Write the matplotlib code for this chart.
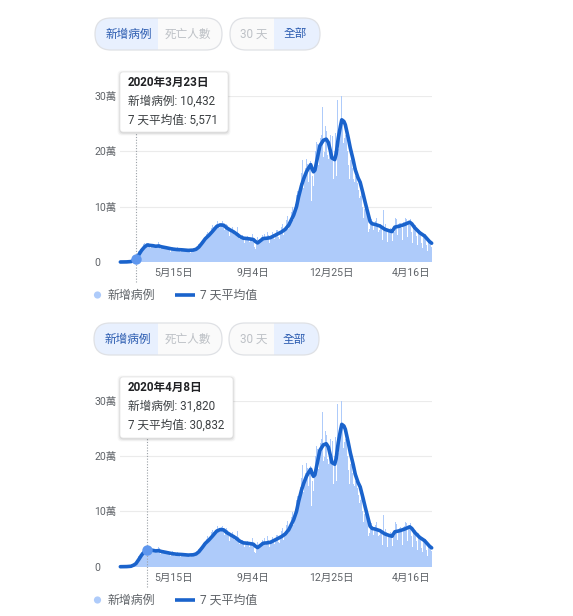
import numpy as np
import matplotlib
matplotlib.use("Agg")
import matplotlib.pyplot as plt
import matplotlib.dates as mdates
from matplotlib.patches import FancyBboxPatch, Rectangle, Circle

plt.rcParams['font.family'] = ['Roboto', 'Noto Sans CJK TC', 'DejaVu Sans']

# ---------------- data ----------------
start_date = "2020-03-01"
# daily new cases (thousands), one row per week starting Sunday 2020-03-01
daily_cases = [
    0.0, 0.0, 0.0, 0.0, 0.1, 0.1, 0.1,
    0.1, 0.2, 0.3, 0.3, 0.5, 0.6, 0.8,
    0.9, 1.2, 1.8, 2.8, 4.5, 5.7, 6.9,
    8.5, 10.432, 10.6, 12.0, 17.5, 19.0, 19.8,
    20.2, 22.0, 26.0, 26.5, 30.5, 32.5, 34.0,
    26.0, 29.0, 32.0, 31.82, 33.5, 34.0, 30.0,
    27.5, 26.0, 26.5, 29.5, 31.0, 32.5, 28.5,
    26.5, 26.0, 27.5, 28.5, 31.5, 36.0, 33.0,
    27.0, 23.5, 24.5, 27.5, 29.5, 29.5, 28.5,
    25.0, 23.0, 24.0, 25.5, 28.0, 27.5, 25.0,
    20.0, 18.5, 21.5, 21.0, 27.5, 25.0, 23.0,
    19.5, 21.5, 20.5, 22.5, 26.5, 24.0, 22.0,
    19.5, 17.5, 19.0, 20.0, 22.0, 24.0, 24.0,
    20.0, 21.0, 20.0, 20.5, 22.0, 23.0, 22.5,
    17.5, 17.0, 19.5, 21.0, 23.5, 25.0, 25.0,
    19.5, 19.0, 23.0, 26.0, 27.5, 32.0, 32.0,
    28.0, 31.0, 34.0, 37.5, 40.0, 45.0, 42.0,
    40.0, 42.0, 45.0, 50.0, 55.0, 54.0, 45.0,
    47.0, 54.0, 60.0, 62.0, 66.0, 71.0, 63.0,
    58.0, 63.0, 66.0, 68.0, 74.0, 74.0, 64.0,
    62.0, 60.0, 64.0, 71.0, 74.0, 73.0, 66.0,
    57.0, 56.0, 63.0, 69.0, 66.0, 69.0, 56.0,
    47.0, 46.0, 55.0, 53.0, 59.0, 63.0, 55.0,
    48.0, 48.0, 52.0, 55.0, 53.0, 64.0, 53.0,
    41.0, 37.0, 44.0, 46.0, 45.0, 48.0, 44.0,
    35.0, 36.0, 40.0, 45.0, 46.0, 47.0, 43.0,
    35.0, 36.0, 40.0, 41.0, 46.0, 51.0, 41.0,
    31.0, 27.0, 24.0, 34.0, 36.0, 45.0, 40.0,
    33.0, 37.0, 38.0, 39.0, 45.0, 48.0, 42.0,
    37.0, 51.0, 39.0, 39.0, 44.0, 55.0, 48.0,
    33.0, 35.0, 43.0, 40.0, 45.0, 54.0, 50.0,
    37.0, 41.0, 50.0, 51.0, 58.0, 58.0, 54.0,
    45.0, 42.0, 52.0, 60.0, 64.0, 69.0, 57.0,
    48.0, 58.0, 60.0, 62.0, 76.0, 83.0, 79.0,
    60.0, 67.0, 74.0, 78.0, 90.0, 99.0, 89.0,
    76.0, 85.0, 92.0, 104.0, 121.0, 128.0, 126.0,
    109.0, 119.0, 137.0, 143.0, 161.0, 184.0, 164.0,
    134.0, 158.0, 163.0, 170.0, 187.0, 196.0, 178.0,
    145.0, 174.0, 178.0, 182.0, 110.0, 205.0, 155.0,
    137.0, 160.0, 184.0, 200.0, 217.0, 229.0, 213.0,
    176.0, 194.0, 219.0, 224.0, 230.0, 247.0, 280.0,
    190.0, 199.0, 198.0, 245.0, 237.0, 236.0, 194.0,
    186.0, 196.0, 199.0, 230.0, 200.0, 98.0, 227.0,
    150.0, 175.0, 200.0, 234.0, 172.0, 155.0, 293.0,
    205.0, 185.0, 230.0, 255.0, 270.0, 300.0, 255.0,
    215.0, 210.0, 225.0, 230.0, 240.0, 245.0, 200.0,
    175.0, 140.0, 150.0, 185.0, 195.0, 190.0, 170.0,
    140.0, 150.0, 145.0, 155.0, 165.0, 170.0, 142.0,
    110.0, 130.0, 115.0, 120.0, 125.0, 128.0, 100.0,
    85.0, 80.0, 95.0, 97.0, 100.0, 103.0, 87.0,
    60.0, 55.0, 60.0, 64.0, 72.0, 78.0, 70.0,
    55.0, 58.0, 70.0, 75.0, 75.0, 80.0, 65.0,
    52.0, 55.0, 58.0, 64.0, 68.0, 66.0, 60.0,
    40.0, 94.0, 56.0, 58.0, 68.0, 62.0, 54.0,
    36.0, 55.0, 56.0, 60.0, 62.0, 60.0, 52.0,
    38.0, 55.0, 55.0, 66.0, 80.0, 77.0, 65.0,
    48.0, 68.0, 63.0, 70.0, 71.0, 62.0, 38.0,
    40.0, 72.0, 62.0, 73.0, 80.0, 78.0, 64.0,
    46.0, 72.0, 74.0, 72.0, 78.0, 73.0, 55.0,
    35.0, 68.0, 62.0, 63.0, 67.0, 63.0, 47.0,
    30.0, 60.0, 52.0, 58.0, 56.0, 54.0, 34.0,
    26.0, 46.0, 43.0, 44.0, 50.0, 48.0, 30.0,
    20.0, 33.0, 37.0, 38.0, 36.0, 39.0, 28.0,
]

# 7-day average (thousands)
avg_dates = [
    "2020-03-01", "2020-03-10", "2020-03-16", "2020-03-20", "2020-03-23", "2020-03-27",
    "2020-03-31", "2020-04-04", "2020-04-08", "2020-04-12", "2020-04-16", "2020-04-20",
    "2020-04-24", "2020-04-28", "2020-05-04", "2020-05-13", "2020-05-20", "2020-05-27",
    "2020-06-05", "2020-06-12", "2020-06-16", "2020-06-20", "2020-06-25", "2020-06-29",
    "2020-07-04", "2020-07-09", "2020-07-15", "2020-07-20", "2020-07-25", "2020-07-29",
    "2020-08-03", "2020-08-08", "2020-08-13", "2020-08-17", "2020-08-22", "2020-08-27",
    "2020-09-01", "2020-09-05", "2020-09-08", "2020-09-11", "2020-09-15", "2020-09-19",
    "2020-09-24", "2020-09-29", "2020-10-06", "2020-10-15", "2020-10-20", "2020-10-25",
    "2020-11-01", "2020-11-05", "2020-11-08", "2020-11-12", "2020-11-15", "2020-11-19",
    "2020-11-22", "2020-11-25", "2020-11-27", "2020-11-29", "2020-12-01", "2020-12-04",
    "2020-12-08", "2020-12-13", "2020-12-17", "2020-12-20", "2020-12-23", "2020-12-25",
    "2020-12-29", "2020-12-31", "2021-01-03", "2021-01-06", "2021-01-08", "2021-01-11",
    "2021-01-13", "2021-01-17", "2021-01-20", "2021-01-24", "2021-01-27", "2021-01-31",
    "2021-02-03", "2021-02-07", "2021-02-10", "2021-02-14", "2021-02-17", "2021-02-20",
    "2021-02-24", "2021-03-03", "2021-03-10", "2021-03-17", "2021-03-20", "2021-03-24",
    "2021-03-31", "2021-04-07", "2021-04-14", "2021-04-17", "2021-04-21", "2021-04-28",
    "2021-05-05", "2021-05-12", "2021-05-15",
]
avg_values = [
    0.0, 0.2, 0.8, 3.0, 5.571, 13.0,
    21.0, 27.0, 30.832, 30.0, 29.5, 28.5,
    29.0, 27.5, 26.0, 23.6, 22.5, 22.0,
    21.0, 21.5, 23.0, 27.0, 35.0, 42.0,
    48.0, 55.0, 64.0, 67.0, 66.5, 62.0,
    58.0, 54.5, 50.0, 46.0, 43.0, 42.4,
    41.5, 40.6, 37.0, 34.5, 38.5, 42.4,
    43.0, 44.0, 48.5, 54.5, 59.0, 66.7,
    85.0, 100.0, 118.0, 138.0, 150.0, 163.0,
    170.0, 176.0, 168.0, 163.0, 166.0, 185.0,
    210.0, 220.0, 222.0, 216.0, 200.0, 188.0,
    185.0, 195.0, 224.0, 245.0, 257.0, 254.0,
    248.0, 225.0, 206.0, 185.0, 167.0, 152.0,
    144.0, 124.0, 108.0, 88.0, 73.0, 69.0,
    68.0, 65.0, 59.0, 56.0, 55.0, 63.0,
    65.0, 68.0, 72.0, 69.0, 62.0, 53.0,
    47.0, 37.0, 34.0,
]

y_ticks = [0, 100, 200, 300]
y_tick_labels = ["0", "10萬", "20萬", "30萬"]
x_tick_dates = ["2020-05-15", "2020-09-04", "2020-12-25", "2021-04-16"]
x_tick_labels = ["5月15日", "9月4日", "12月25日", "4月16日"]

hover_dates = ["2020-03-23", "2020-04-08"]
hover_titles = ["2020年3月23日", "2020年4月8日"]
hover_new = ["10,432", "31,820"]
hover_avg_text = ["5,571", "30,832"]
hover_avg = [5.571, 30.832]

# ---------------- styling ----------------
W, H = 573, 616
BAR_C = "#aecbfa"
LINE_C = "#1a63cc"
GRID_C = "#ebebeb"
TICK_C = "#5f6368"

fig = plt.figure(figsize=(W / 100, H / 100), dpi=100)

d0 = np.datetime64(start_date)
days = d0 + np.arange(len(daily_cases))
xnum = mdates.date2num(days.astype("datetime64[D]").astype(object))
avg_x = mdates.date2num([np.datetime64(d).astype(object) for d in avg_dates])
xt = mdates.date2num([np.datetime64(d).astype(object) for d in x_tick_dates])

def px_axes(x0, x1, y_top, y_bot):
    return fig.add_axes([x0 / W, 1 - y_bot / H, (x1 - x0) / W, (y_bot - y_top) / H])

panels = [(96, 262), (400.5, 566.7)]
axes = []
for i, (ytop, ybot) in enumerate(panels):
    ax = px_axes(120, 432, ytop, ybot)
    ax.bar(xnum, daily_cases, width=1.0, color=BAR_C, linewidth=0, zorder=2)
    ax.plot(avg_x, avg_values, color=LINE_C, lw=2.6, solid_joinstyle="round",
            solid_capstyle="round", zorder=4, clip_on=False)
    ax.set_xlim(xnum[0] - 0.5, xnum[-1] + 0.5)
    ax.set_ylim(0, 300)
    ax.set_yticks(y_ticks)
    ax.set_yticklabels(y_tick_labels)
    for lab in ax.get_yticklabels():
        lab.set_ha("left")
    ax.tick_params(axis="y", length=0, pad=18.5, labelsize=7.6, labelcolor=TICK_C)
    ax.set_xticks(xt)
    ax.set_xticklabels(x_tick_labels)
    ax.tick_params(axis="x", length=0, pad=4.5, labelsize=7.6, labelcolor=TICK_C)
    ax.grid(axis="y", color=GRID_C, lw=0.8, zorder=0)
    ax.set_axisbelow(True)
    for s in ax.spines.values():
        s.set_visible(False)
    # hover marker and guide
    hx = mdates.date2num(np.datetime64(hover_dates[i]).astype(object))
    tip_bottom = 132 if i == 0 else 438
    ymax = (ybot - tip_bottom) / (ybot - ytop)
    ymin = -20 / (ybot - ytop)
    ax.axvline(hx, ymin=ymin, ymax=ymax, color="#9aa0a6", lw=0.8,
               linestyle=(0, (1, 1.5)), clip_on=False, zorder=3)
    ax.plot([hx], [hover_avg[i]], marker="o", ms=7.5, color="#5f97ee",
            markeredgewidth=0, zorder=6, clip_on=False)
    axes.append(ax)

# ---------------- overlay (pixel coordinates) ----------------
ov = fig.add_axes([0, 0, 1, 1], zorder=10)
ov.set_xlim(0, W)
ov.set_ylim(H, 0)
ov.axis("off")
ov.patch.set_visible(False)

SEL_BG = "#e8f0fe"
SEL_TXT = "#2a5bb0"
UNSEL_TXT = "#bdc1c6"

def pill_group(x0, x1, y0, y1, split, labels, sel_left):
    h = y1 - y0
    r = h / 2
    base = FancyBboxPatch((x0, y0), x1 - x0, h,
                          boxstyle=f"round,pad=0,rounding_size={r}",
                          fc="#fafafa", ec="none", zorder=1)
    ov.add_patch(base)
    if sel_left:
        rect = Rectangle((x0, y0), split - x0, h, fc=SEL_BG, ec="none", zorder=2)
    else:
        rect = Rectangle((split, y0), x1 - split, h, fc=SEL_BG, ec="none", zorder=2)
    ov.add_patch(rect)
    rect.set_clip_path(base)
    border = FancyBboxPatch((x0, y0), x1 - x0, h,
                            boxstyle=f"round,pad=0,rounding_size={r}",
                            fc="none", ec="#dfe1e5", lw=0.9, zorder=3)
    ov.add_patch(border)
    cy = (y0 + y1) / 2
    c_left = (x0 + split) / 2 + 2
    c_right = (split + x1) / 2 - 2
    ov.text(c_left, cy, labels[0], ha="center", va="center", fontsize=8.4,
            color=SEL_TXT if sel_left else UNSEL_TXT, zorder=4)
    ov.text(c_right, cy, labels[1], ha="center", va="center", fontsize=8.4,
            color=UNSEL_TXT if sel_left else SEL_TXT, zorder=4)

def tooltip(x0, y0, x1, y1, title, new_txt, avg_txt):
    for k, a in [(3, 0.03), (2, 0.05), (1, 0.07)]:
        sh = FancyBboxPatch((x0 - k + 0.5, y0 - k + 1.5), x1 - x0 + 2 * k - 1, y1 - y0 + 2 * k - 1,
                            boxstyle="round,pad=0,rounding_size=4", fc="black", ec="none",
                            alpha=a, zorder=5)
        ov.add_patch(sh)
    box = FancyBboxPatch((x0, y0), x1 - x0, y1 - y0, boxstyle="round,pad=0,rounding_size=3",
                         fc="white", ec="#e3e3e3", lw=0.5, zorder=6)
    ov.add_patch(box)
    tx = x0 + 8
    ov.text(tx, y0 + 10.5, title, ha="left", va="center", fontsize=8.4,
            fontweight="bold", color="#202124", zorder=7)
    ov.text(tx, y0 + 29, "新增病例: " + new_txt, ha="left", va="center", fontsize=8.4,
            color="#3c4043", zorder=7)
    ov.text(tx, y0 + 48.5, "7 天平均值: " + avg_txt, ha="left", va="center", fontsize=8.4,
            color="#3c4043", zorder=7)

def legend(y):
    ov.add_patch(Circle((97.5, y), 3.6, fc=BAR_C, ec="none"))
    ov.text(108, y, "新增病例", ha="left", va="center", fontsize=8.6, color=TICK_C)
    ov.plot([175, 195], [y, y], color=LINE_C, lw=2.6, solid_capstyle="butt")
    ov.text(200, y, "7 天平均值", ha="left", va="center", fontsize=8.6, color=TICK_C)

# panel 1 controls
pill_group(95, 222, 18, 50, 158, ["新增病例", "死亡人數"], True)
pill_group(230, 320, 18, 50, 274, ["30 天", "全部"], False)
# panel 2 controls
pill_group(94, 222, 323, 355, 158, ["新增病例", "死亡人數"], True)
pill_group(229, 319, 323, 355, 274, ["30 天", "全部"], False)

tooltip(120, 72, 228, 132, hover_titles[0], hover_new[0], hover_avg_text[0])
tooltip(120, 377, 233, 438, hover_titles[1], hover_new[1], hover_avg_text[1])

legend(295)
legend(600)

fig.savefig("out.png", dpi=100)
